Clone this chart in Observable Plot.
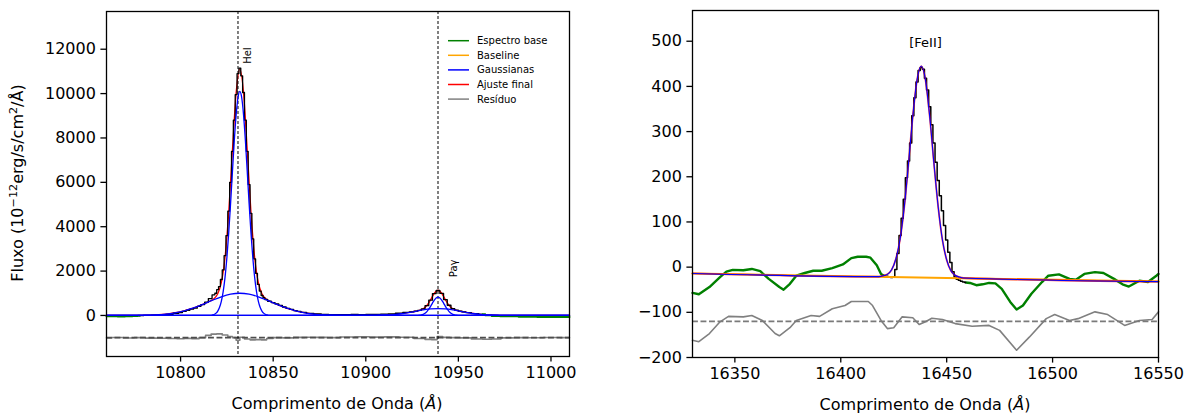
<!DOCTYPE html>
<html>
<head>
<meta charset="utf-8">
<script src="https://cdn.jsdelivr.net/npm/d3@7"></script>
<script src="https://cdn.jsdelivr.net/npm/@observablehq/plot@0.6"></script>
<style>
  body { margin: 0; background: #fff; font-family: "DejaVu Sans", sans-serif; }
  #fig { position: relative; width: 1190px; height: 416px; overflow: hidden; background: #fff; }
  .panel { position: absolute; top: 0; }
  .lbl { position: absolute; font-size: 16px; white-space: nowrap; color: #000; line-height: 1; }
  .lbl sup { font-size: 0.7em; line-height: 0; vertical-align: 0.5em; }
  .legend { position: absolute; }
  svg [aria-label$="tick"] path, svg .tick line { stroke-width: 1.3px; }
</style>
</head>
<body>
<div id="fig"></div>
<script>
// ---------- HeI + Paγ window (left panel) ----------
const heAxisTicksX = [10800, 10850, 10900, 10950, 11000];
const heAxisTicksY = [0, 2000, 4000, 6000, 8000, 10000, 12000];
const heWindow = [10778, 10963];          // fitted range of the observed spectrum
const heResidualOffset = -1000;            // residuals are drawn around this level

const heLines = [
  {name: "HeI", wave: 10831, labelY: 11340},
  {name: "Paγ", wave: 10939, labelY: 1725}
];

// observed spectrum
const heWave = [10760,10764,10768,10772,10776,10778,10782,10786,10790,10794,10798,
  10800,10802,10804,10806,10808,10810,10812,10814,10816,10818,10819,10820,10821,10822,10823,
  10824,10825,10826,10827,10828,10829,10830,10831,10832,10833,10834,10835,10836,10837,10838,
  10839,10840,10841,10842,10843,10844,10845,10846,10848,10850,10852,10854,10856,10858,
  10860,10862,10864,10866,10870,10874,10878,10882,10886,10890,10894,10898,10902,10906,10910,
  10914,10918,10922,10925,10927,10929,10931,10933,10935,10937,10939,10941,10943,10945,10947,
  10949,10951,10953,10955,10959,10963,10966,10970,10975,10980,10985,10990,10995,11000,11005,11010];
const heFlux = [-40,-35,-45,-40,-30,-10,5,10,25,50,100,
  130,180,230,285,330,410,490,600,760,930,1000,1160,1300,1620,2050,
  2700,3600,4700,6000,7400,8800,9950,10900,11150,10800,10050,8800,7400,5900,4600,
  3450,2550,1900,1400,1100,900,800,720,640,580,520,450,380,320,
  270,220,180,140,95,65,50,40,40,38,42,40,42,48,58,
  75,100,135,165,195,232,295,440,690,985,1125,995,715,460,310,
  240,195,160,130,85,50,10,-20,-40,-35,-60,-55,-65,-70,-65,-70];

// final fit (sum of the components)
const heFitWave = [10760,10770,10778,10782,10786,10790,10794,10798,
  10800,10802,10804,10806,10808,10810,10812,10814,10816,10818,10820,10822,10824,10826,10828,
  10830,10832,10834,10836,10838,10840,10842,10844,10846,10848,10850,10852,10854,10856,10858,
  10860,10862,10864,10866,10870,10874,10878,10882,10886,10890,10894,10898,10902,10906,10910,
  10914,10918,10922,10925,10927,10929,10931,10933,10935,10937,10939,10941,10943,10945,10947,
  10949,10951,10953,10955,10959,10963,10967,10971,10975,10980,10990,11010];
const heFitFlux = [0,1,6,13,26,47,82,135,
  170,211,258,310,369,433,500,572,650,756,967,1475,2612,4669,7457,
  10033,11100,10033,7457,4669,2612,1475,967,756,650,572,500,433,369,310,
  258,211,170,135,82,47,26,13,6,3,1,1,3,7,17,
  35,67,114,157,190,230,300,448,706,1000,1135,1000,706,448,300,
  230,190,157,127,77,42,20,9,3,1,0,0];

// Gaussian components
const heNarrowWave = [10760,10813,10814,10815,10816,10817,10818,10819,10820,10821,10822,10823,10824,
  10825,10826,10827,10828,10829,10830,10831,10832,10833,10834,10835,10836,10837,10838,10839,
  10840,10841,10842,10843,10844,10845,10846,10847,10848,10849,10850,10851,11010];
const heNarrowFlux = [0,0,1,3,8,20,44,94,188,354,634,1072,1717,
  2599,3729,5053,6484,7872,9040,9824,10100,9824,9040,7872,6484,5053,3729,2599,
  1717,1072,634,354,188,94,44,20,8,3,1,0,0];

const heBroadWave = [10760,10772,10777,10782,10787,10792,10797,10802,10807,10812,10817,10822,10827,
  10832,10837,10842,10847,10852,10857,10862,10867,10872,10877,10882,10887,10892,11010];
const heBroadFlux = [0,2,5,13,30,63,120,211,339,500,678,841,958,
  1000,958,841,678,500,339,211,120,63,30,13,5,2,0];

const paNarrowWave = [10760,10926,10927,10928,10929,10930,10931,10932,10933,10934,10935,10936,10937,10938,
  10939,10940,10941,10942,10943,10944,10945,10946,10947,10948,10949,10950,10951,10952,11010];
const paNarrowFlux = [0,0,2,5,11,25,52,99,174,280,413,559,694,790,
  825,790,694,559,413,280,174,99,52,25,11,5,2,0,0];

const paBroadWave = [10760,10895,10899,10903,10907,10911,10915,10919,10923,10927,10931,10935,
  10939,10943,10947,10951,10955,10959,10963,10967,10971,10975,10979,10983,11010];
const paBroadFlux = [0,0,1,3,9,20,42,77,127,188,248,293,
  310,293,248,188,127,77,42,20,9,3,1,0,0];

const heBaseWave = [10760, 11010];
const heBaseFlux = [0, 0];

// residuals (shifted to the offset level)
const heResWave = [10760,10766,10772,10778,10784,10790,10796,10800,10804,10808,10812,10815,10818,10821,
  10824,10827,10829,10831,10833,10836,10839,10842,10845,10848,10852,10858,10864,10870,10876,10882,
  10890,10898,10906,10914,10922,10930,10934,10937,10940,10943,10948,10954,10960,10966,10970,10976,
  10984,10992,11000,11010];
const heResFlux = [-1010,-995,-1015,-1000,-1020,-1030,-1040,-1050,-1035,-1045,-1000,-900,-840,-830,
  -880,-950,-1000,-1120,-980,-1060,-1100,-1090,-1100,-1040,-1000,-1010,-990,-980,-990,-1000,
  -970,-960,-975,-965,-980,-1040,-1080,-1090,-950,-990,-1000,-1010,-1060,-1070,-1060,-1010,
  -1000,-1005,-995,-1000];

// ---------- [FeII] window (right panel) ----------
const feAxisTicksX = [16350, 16400, 16450, 16500, 16550];
const feAxisTicksY = [-200, -100, 0, 100, 200, 300, 400, 500];
const feWindow = [16422, 16459];
const feResidualOffset = -120;
const feLabel = [{name: "[FeII]", wave: 16440, labelY: 496}];

const feWave = [16330,16333,16338,16343,16346,16349,16354,16358,16362,16366,16371,16373,16376,16379,
  16383,16387,16391,16396,16401,16405,16408,16412,16414,16417,16419,16421,
  16422,16423,16424,16425,16426,16427,16428,16429,16430,16431,16432,16433,16434,16435,16436,16437,
  16438,16439,16440,16441,16442,16443,16444,16445,16446,16447,16448,16449,16450,16451,16452,16453,
  16454,16455,16456,16457,16458,16459,
  16461,16464,16467,16470,16473,16476,16480,16483,16486,16490,16495,16498,16503,16508,16511,16515,
  16520,16524,16529,16533,16536,16541,16545,16549,16550];
const feFlux = [-57,-60,-44,-22,-10,-6,-7,-4,-9,-26,-44,-50,-37,-19,
  -13,-8,-8,-2,6,20,23,23,21,4,-15,-21,
  -21,-22,-23,-22,-5,30,70,108,150,198,235,275,335,375,410,435,
  442,438,418,392,355,315,275,232,192,158,125,92,60,33,10,-10,
  -22,-27,-29,-31,-33,-34,
  -35,-40,-38,-35,-36,-48,-77,-94,-85,-59,-33,-19,-16,-26,-28,-15,
  -11,-13,-26,-38,-43,-30,-33,-19,-15];

const feFitWave = [16330,16418,16420,16422,16424,16426,16428,16430,16432,16434,16436,16438,
  16440,16442,16444,16446,16448,16450,16452,16454,16456,16458,16550];
const feFitFlux = [-14,-21,-19,-16,-6,18,62,134,230,334,414,445,
  414,333,229,133,60,16,-8,-18,-22,-24,-32];

const feBaseWave = [16330, 16550];
const feBaseFlux = [-14, -32];

const feResWave = [16330,16333,16338,16343,16347,16354,16358,16363,16369,16371,16376,16379,16386,16390,
  16396,16402,16405,16413,16415,16419,16422,16425,16429,16434,16437,16440,16443,16448,16454,16462,
  16470,16475,16483,16489,16497,16501,16508,16512,16520,16526,16534,16541,16547,16550];
const feResFlux = [-162,-165,-147,-121,-109,-110,-107,-118,-147,-152,-134,-118,-107,-109,
  -92,-85,-76,-76,-85,-118,-136,-134,-110,-112,-127,-121,-113,-116,-125,-131,
  -129,-140,-184,-155,-114,-105,-118,-114,-99,-105,-129,-118,-116,-99];

// legend entries of the left panel
const legendLabels = ["Espectro base", "Baseline", "Gaussianas", "Ajuste final", "Resíduo"];
const legendColors = ["green", "orange", "blue", "red", "gray"];

// ---------- helpers ----------
const fmt = d3.format("d");
const pts = (xs, ys) => xs.map((x, i) => ({x, y: ys[i]}));
const axisStyle = {tickSize: 5.6, tickPadding: 5, tickFormat: fmt, label: null};
const plotStyle = {fontFamily: "DejaVu Sans", fontSize: "16px", color: "#000", background: "transparent", overflow: "visible"};
const model = {x: "x", y: "y", curve: "monotone-x"};

// ---------- left panel ----------
const heSpec = pts(heWave, heFlux);
const leftPlot = Plot.plot({
  width: 590, height: 416,
  marginLeft: 106, marginRight: 21, marginTop: 11, marginBottom: 60,
  style: plotStyle,
  x: {domain: [10760, 11010], ticks: heAxisTicksX, ...axisStyle},
  y: {domain: [-1850, 13700], ticks: heAxisTicksY, ...axisStyle},
  marks: [
    Plot.line(pts(heBaseWave, heBaseFlux), {x: "x", y: "y", stroke: "orange", strokeWidth: 1}),
    Plot.line(heSpec.filter(d => d.x <= heWindow[0]), {x: "x", y: "y", stroke: "green", strokeWidth: 2, curve: "step"}),
    Plot.line(heSpec.filter(d => d.x >= heWindow[1]), {x: "x", y: "y", stroke: "green", strokeWidth: 2, curve: "step"}),
    Plot.line(pts(heResWave, heResFlux), {x: "x", y: "y", stroke: "gray", strokeWidth: 1.6, curve: "step"}),
    Plot.ruleY([heResidualOffset], {stroke: "#4d4d4d", strokeWidth: 1.6, strokeDasharray: "5.9,2.6"}),
    Plot.ruleX(heLines, {x: "wave", stroke: "#000", strokeWidth: 1, strokeDasharray: "3,2"}),
    Plot.line(pts(heFitWave, heFitFlux), {...model, stroke: "red", strokeWidth: 1.3}),
    Plot.line(heSpec.filter(d => d.x >= heWindow[0] && d.x <= heWindow[1]), {x: "x", y: "y", stroke: "#000", strokeWidth: 1.3, curve: "step"}),
    Plot.line(pts(heNarrowWave, heNarrowFlux), {...model, stroke: "blue", strokeWidth: 1.3}),
    Plot.line(pts(heBroadWave, heBroadFlux), {...model, stroke: "blue", strokeWidth: 1.3}),
    Plot.line(pts(paNarrowWave, paNarrowFlux), {...model, stroke: "blue", strokeWidth: 1.3}),
    Plot.line(pts(paBroadWave, paBroadFlux), {...model, stroke: "blue", strokeWidth: 1.3}),
    Plot.text(heLines.slice(0, 1), {x: "wave", y: "labelY", text: "name", rotate: -90, textAnchor: "start", lineAnchor: "middle", dx: 10, fontSize: 10}),
    Plot.text(heLines.slice(1), {x: "wave", y: "labelY", text: "name", rotate: -90, textAnchor: "start", lineAnchor: "middle", dx: 16, fontSize: 10}),
    Plot.frame({stroke: "#000", strokeWidth: 1.3})
  ]
});

// ---------- right panel ----------
const feSpec = pts(feWave, feFlux);
const feFit = pts(feFitWave, feFitFlux);
const rightPlot = Plot.plot({
  width: 590, height: 416,
  marginLeft: 92, marginRight: 32, marginTop: 10, marginBottom: 59,
  style: plotStyle,
  x: {domain: [16330, 16550], ticks: feAxisTicksX, ...axisStyle},
  y: {domain: [-200, 568], ticks: feAxisTicksY, ...axisStyle},
  marks: [
    Plot.line(feSpec.filter(d => d.x <= feWindow[0]), {x: "x", y: "y", stroke: "green", strokeWidth: 2.4}),
    Plot.line(feSpec.filter(d => d.x >= feWindow[1]), {x: "x", y: "y", stroke: "green", strokeWidth: 2.4}),
    Plot.line(pts(feResWave, feResFlux), {x: "x", y: "y", stroke: "gray", strokeWidth: 1.6}),
    Plot.ruleY([feResidualOffset], {stroke: "#7a7a7a", strokeWidth: 1.6, strokeDasharray: "5.9,2.6"}),
    Plot.line(feSpec.filter(d => d.x >= feWindow[0] && d.x <= feWindow[1]), {x: "x", y: "y", stroke: "#000", strokeWidth: 1.5, curve: "step"}),
    Plot.line(pts(feBaseWave, feBaseFlux), {x: "x", y: "y", stroke: "orange", strokeWidth: 2}),
    Plot.line(feFit, {...model, stroke: "red", strokeWidth: 1.8, strokeOpacity: 0.7}),
    Plot.line(feFit, {...model, stroke: "blue", strokeWidth: 1.1}),
    Plot.text(feLabel, {x: "wave", y: "labelY", text: "name", textAnchor: "middle", lineAnchor: "middle", fontSize: 13}),
    Plot.frame({stroke: "#000", strokeWidth: 1.3})
  ]
});

// ---------- assemble ----------
const fig = document.getElementById("fig");
const p1 = document.createElement("div"); p1.className = "panel"; p1.style.left = "0px"; p1.appendChild(leftPlot);
const p2 = document.createElement("div"); p2.className = "panel"; p2.style.left = "600px"; p2.appendChild(rightPlot);
fig.appendChild(p1); fig.appendChild(p2);

function addLabel(html, x, y, rotate) {
  const el = document.createElement("div");
  el.className = "lbl";
  el.innerHTML = html;
  el.style.left = x + "px";
  el.style.top = y + "px";
  el.style.transform = "translate(-50%,-50%)" + (rotate ? ` rotate(${rotate}deg)` : "");
  fig.appendChild(el);
}
addLabel("Fluxo (10<sup>−12</sup>erg/s/cm<sup>2</sup>/Å)", 18, 183, -90);
addLabel("Comprimento de Onda (<i>Å</i>)", 337, 404);
addLabel("Comprimento de Onda (<i>Å</i>)", 925, 405);

// legend drawn as a small inline SVG inside the left panel
const ns = "http://www.w3.org/2000/svg";
const leg = document.createElementNS(ns, "svg");
leg.setAttribute("width", 120);
leg.setAttribute("height", 80);
leg.setAttribute("class", "legend");
leg.style.left = "446px";
leg.style.top = "32px";
legendLabels.forEach((label, i) => {
  const yy = 8.7 + i * 14.6;
  const ln = document.createElementNS(ns, "line");
  ln.setAttribute("x1", 2); ln.setAttribute("x2", 23);
  ln.setAttribute("y1", yy); ln.setAttribute("y2", yy);
  ln.setAttribute("stroke", legendColors[i]);
  ln.setAttribute("stroke-width", 1.5);
  const tx = document.createElementNS(ns, "text");
  tx.setAttribute("x", 31); tx.setAttribute("y", yy);
  tx.setAttribute("dy", "0.35em");
  tx.setAttribute("font-family", "DejaVu Sans");
  tx.setAttribute("font-size", 10);
  tx.setAttribute("fill", "#000");
  tx.textContent = label;
  leg.appendChild(ln); leg.appendChild(tx);
});
fig.appendChild(leg);
</script>
</body>
</html>
